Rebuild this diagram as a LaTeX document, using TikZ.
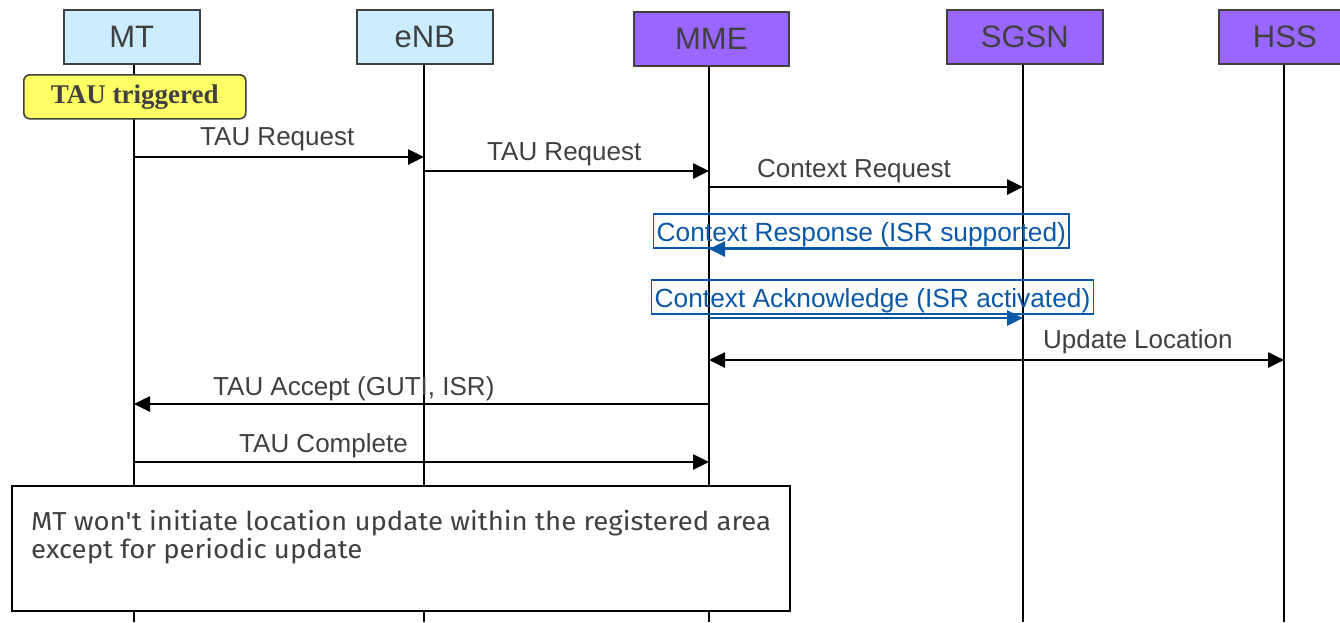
\documentclass[tikz,border=0pt]{standalone}
\usepackage{fontspec}
\setmainfont{Liberation Sans}
\newfontfamily\serifbf{Liberation Serif}
\newfontfamily\notefont[FakeStretch=1.06]{Fira Sans}
\usetikzlibrary{arrows.meta}
\definecolor{txt}{HTML}{404040}
\definecolor{lblue}{HTML}{CCECFF}
\definecolor{purp}{HTML}{9966FF}
\definecolor{trig}{HTML}{FFFF66}
\definecolor{msgblue}{HTML}{0B58A8}
\tikzset{
  entity/.style={draw=txt, line width=1.6pt, text=txt, minimum height=54pt, anchor=north west,
    font=\fontsize{31}{34}\selectfont, inner sep=0pt},
  life/.style={draw=black, line width=1.2pt},
  msg/.style={line width=2.6pt, -{Triangle[length=16pt,width=15pt]}},
  dmsg/.style={line width=2.6pt, {Triangle[length=16pt,width=15pt]}-{Triangle[length=16pt,width=15pt]}},
  lbl/.style={text=txt, font=\fontsize{26}{30}\selectfont, anchor=base west, inner sep=0pt},
  blbl/.style={draw=msgblue, line width=1.4pt, text=msgblue, font=\fontsize{26.3}{30}\selectfont,
    anchor=base west, inner xsep=3pt, inner ysep=2pt, text height=25pt, text depth=5pt}
}
\begin{document}
\begin{tikzpicture}[x=1pt,y=-1pt]
\useasboundingbox (0,0) rectangle (1340,622);
\clip (0,0) rectangle (1340,622);
% entities
\node[entity, fill=lblue, minimum width=136pt] (mt) at (63,9) {MT};
\node[entity, fill=lblue, minimum width=136pt] (enb) at (356,9) {eNB};
\node[entity, fill=purp, minimum width=155pt] (mme) at (633,11) {MME};
\node[entity, fill=purp, minimum width=156pt] (sgsn) at (946,9) {SGSN};
\node[entity, fill=purp, minimum width=134pt] (hss) at (1218,9) {\hspace*{-2pt}HSS};
% lifeline ends
\coordinate (mtE) at (134,622);
\coordinate (enbE) at (424,622);
\coordinate (mmeE) at (709,622);
\coordinate (sgsnE) at (1023,622);
\coordinate (hssE) at (1284,622);
\draw[life] (mt.south -| mtE) -- (mtE);
\draw[life] (enb.south -| enbE) -- (enbE);
\draw[life] (mme.south -| mmeE) -- (mmeE);
\draw[life] (sgsn.south -| sgsnE) -- (sgsnE);
\draw[life] (hss.south -| hssE) -- (hssE);
% trigger
\node[draw=txt, line width=1.6pt, fill=trig, rounded corners=6pt, anchor=north west,
  minimum width=222pt, minimum height=44pt, text=txt, inner sep=0pt,
  font=\serifbf\bfseries\fontsize{27}{30}\selectfont] (trg) at (23,74) {TAU triggered};
% message endpoints
\coordinate (m1a) at (134,157); \coordinate (m1b) at (424,157);
\coordinate (m2a) at (424,171); \coordinate (m2b) at (709,171);
\coordinate (m3a) at (709,187); \coordinate (m3b) at (1023,187);
\coordinate (m4a) at (1023,249); \coordinate (m4b) at (709,249);
\coordinate (m5a) at (709,318); \coordinate (m5b) at (1023,318);
\coordinate (m6a) at (709,360); \coordinate (m6b) at (1284,360);
\coordinate (m7a) at (709,404); \coordinate (m7b) at (134,404);
\coordinate (m8a) at (134,462); \coordinate (m8b) at (709,462);
% labels
\node[lbl] (l1) at (200,145) {TAU Request};
\node[lbl] (l2) at (487,160) {TAU Request};
\node[lbl] (l3) at (757,177) {Context Request};
\node[blbl] (l4) at (653,241) {Context Response (ISR supported)};
\node[blbl] (l5) at (651,307) {Context Acknowledge (ISR activated)};
\node[lbl] (l6) at (1043,348) {Update Location};
\node[lbl] (l7) at (213,395) {TAU Accept (GUTI, ISR)};
\node[lbl] (l8) at (239,452) {TAU Complete};
% arrows
\draw[msg] (m1a) -- (m1b);
\draw[msg] (m2a) -- (m2b);
\draw[msg] (m3a) -- (m3b);
\draw[msg, draw=msgblue, fill=msgblue] (m4a) -- (m4b);
\draw[msg, draw=msgblue, fill=msgblue] (m5a) -- (m5b);
\draw[dmsg] (m6a) -- (m6b);
\draw[msg] (m7a) -- (m7b);
\draw[msg] (m8a) -- (m8b);
% note
\node[draw=black, line width=1.6pt, fill=white, anchor=north west, minimum width=778pt,
  minimum height=125pt, inner sep=0pt] (note) at (11,485) {};
\node[text=txt, anchor=base west, inner sep=0pt, align=left,
  font=\notefont\fontsize{26}{28}\selectfont] (notetxt) at (31,558)
  {MT won't initiate location update within the registered area\\except for periodic update};
\end{tikzpicture}
\end{document}
